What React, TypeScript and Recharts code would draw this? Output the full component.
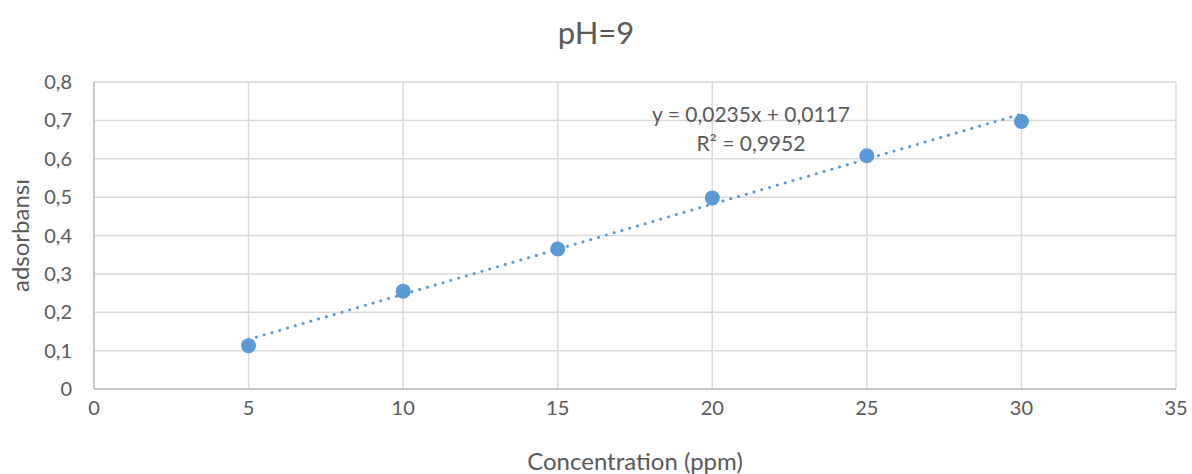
import { ComposedChart, Scatter, Line, XAxis, YAxis, CartesianGrid, Label } from 'recharts';

const concentrations = [5, 10, 15, 20, 25, 30];
const absorbance = [0.113, 0.255, 0.365, 0.498, 0.608, 0.697];

// trendline ends as Excel draws them (y = 0,0235x + 0,0117)
const trendX = [5, 30];
const trendY = [0.1292, 0.7167];

const xTicks = [0, 5, 10, 15, 20, 25, 30, 35];
const yTicks = [0, 0.1, 0.2, 0.3, 0.4, 0.5, 0.6, 0.7, 0.8];

const points = concentrations.map((x, i) => ({ x, y: absorbance[i] }));
const trend = trendX.map((x, i) => ({ x, t: trendY[i] }));

const FONT = 'Lato, "Open Sans", sans-serif';
const GREY = '#595959';
const BLUE = '#5b9bd5';

const fmt = (v: number) => (v === 0 ? '0' : v.toFixed(1).replace('.', ','));

export default function App() {
  return (
    <div style={{ position: 'fixed', left: 0, top: 0, width: 1192, height: 474, background: '#fff', fontFamily: FONT }}>
      <div style={{ position: 'absolute', top: 13, width: 1192, textAlign: 'center', fontSize: 31, color: GREY }}>
        pH=9
      </div>
      <ComposedChart width={1192} height={474} margin={{ top: 82, right: 16, bottom: 0, left: 0 }}>
        <CartesianGrid stroke="#d9d9d9" strokeWidth={1.5} />
        <XAxis
          type="number"
          dataKey="x"
          domain={[0, 35]}
          ticks={xTicks}
          height={85}
          tickSize={0}
          tickMargin={12}
          axisLine={{ stroke: '#bfbfbf', strokeWidth: 1.5 }}
          tick={{ fill: GREY, fontSize: 20, fontFamily: FONT }}
        >
          <Label value="Concentration (ppm)" position="insideBottom" offset={4} fill={GREY} fontSize={24} fontFamily={FONT} />
        </XAxis>
        <YAxis
          type="number"
          domain={[0, 0.8]}
          ticks={yTicks}
          width={94}
          tickSize={0}
          tickMargin={22}
          tickFormatter={fmt}
          axisLine={{ stroke: '#bfbfbf', strokeWidth: 1.5 }}
          tick={{ fill: GREY, fontSize: 20, fontFamily: FONT }}
        >
          <Label value="adsorbansı" angle={-90} position="insideLeft" offset={20} fill={GREY} fontSize={24} fontFamily={FONT} style={{ textAnchor: 'middle' }} />
        </YAxis>
        <Line
          data={trend}
          dataKey="t"
          type="linear"
          stroke={BLUE}
          strokeWidth={3}
          strokeDasharray="0.1 8"
          strokeLinecap="round"
          dot={false}
          activeDot={false}
          isAnimationActive={false}
        />
        <Scatter
          data={points}
          dataKey="y"
          fill={BLUE}
          isAnimationActive={false}
          shape={(p: any) => <circle cx={p.cx} cy={p.cy} r={7.5} fill={BLUE} />}
        />
      </ComposedChart>
      <div style={{ position: 'absolute', left: 551, top: 99, width: 400, textAlign: 'center', fontSize: 21, color: GREY, lineHeight: '29px' }}>
        y = 0,0235x + 0,0117
        <br />
        R² = 0,9952
      </div>
    </div>
  );
}
